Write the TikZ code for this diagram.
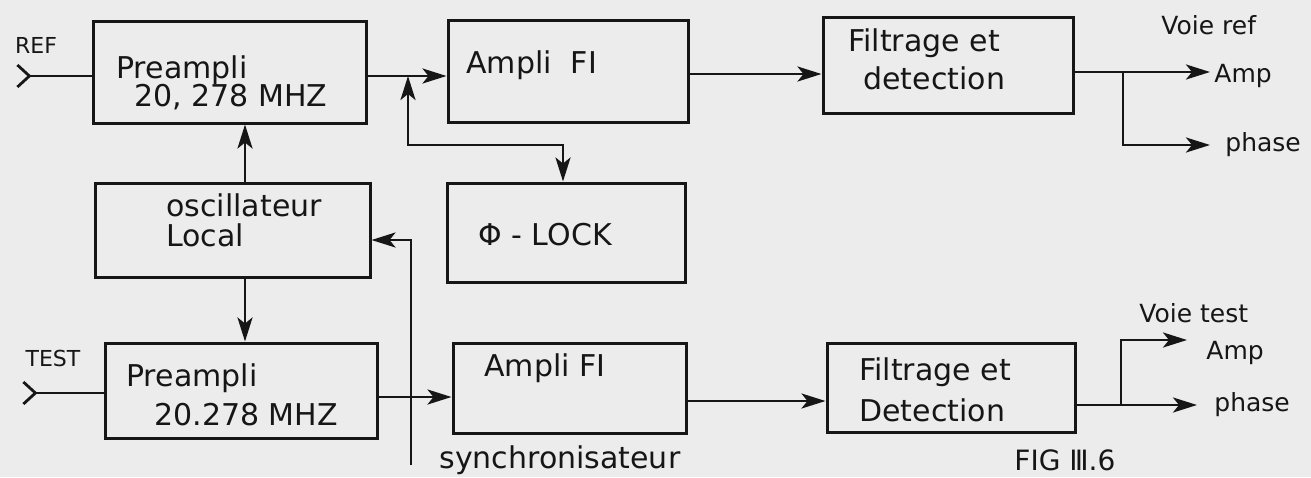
\documentclass[tikz,border=0pt]{standalone}
\usepackage{fontspec}
\setmainfont{DejaVu Sans}
\usetikzlibrary{arrows.meta,fit}
\definecolor{paper}{RGB}{236,236,236}
\definecolor{ink}{RGB}{22,22,22}
\begin{document}
\begin{tikzpicture}[x=0.5pt,y=-0.5pt,color=ink,line width=1.4pt,
  box/.style={draw=ink,line width=1.5pt,inner sep=0pt,fit={#1}},
  arr/.style={-{Stealth[length=12pt,width=7.5pt,inset=3pt]}},
  dbl/.style={{Stealth[length=12pt,width=7.5pt,inset=3pt]}-{Stealth[length=12pt,width=7.5pt,inset=3pt]}},
  inarr/.style={{Straight Barb[reversed,length=6pt,width=11pt]}-},
  lbl/.style={anchor=west,inner sep=0pt,font=\fontsize{15}{15}\selectfont},
  sml/.style={anchor=west,inner sep=0pt,font=\fontsize{12.5}{12.5}\selectfont},
  tag/.style={inner sep=0pt,font=\fontsize{11}{11}\selectfont}]
\useasboundingbox (0,0) rectangle (1311,477);
\fill[paper] (0,0) rectangle (1311,477);
% boxes
\node[box={(93,21) (366,123)}] (pre1) {};
\node[box={(448,20) (688,122)}] (amp1) {};
\node[box={(823,17) (1073,113)}] (fil1) {};
\node[box={(95,183) (370,277)}] (osc) {};
\node[box={(447,183) (685,282)}] (phi) {};
\node[box={(105,343) (377,438)}] (pre2) {};
\node[box={(453,343) (686,433)}] (amp2) {};
\node[box={(827,343) (1075,432)}] (fil2) {};
% texts
\node[tag] (tref) at (36,45) {REF};
\node[tag] (ttest) at (53,358) {TEST};
\node[lbl] (ta1) at (115,70) {Preampli};
\node[lbl] (ta2) at (133,97) {20, 278 MHZ};
\node[lbl] (tb1) at (465,65) {Ampli\ \ FI};
\node[lbl] (tc1) at (847,43) {Filtrage et};
\node[lbl] (tc2) at (862,78) {detection};
\node[lbl] (td1) at (165,205) {oscillateur};
\node[lbl] (td2) at (165,235) {Local};
\node[lbl] (te1) at (477,235) {Φ - LOCK};
\node[lbl] (tf1) at (125,378) {Preampli};
\node[lbl] (tf2) at (153,415) {20.278 MHZ};
\node[lbl] (tg1) at (483,368) {Ampli FI};
\node[lbl] (th1) at (858,372) {Filtrage et};
\node[lbl] (th2) at (858,410) {Detection};
\node[sml] (tvr) at (1160,25) {Voie ref};
\node[sml] (tar) at (1213,76) {Amp};
\node[sml] (tpr) at (1224,145) {phase};
\node[sml] (tvt) at (1138,313) {Voie test};
\node[sml] (tat) at (1205,353) {Amp};
\node[sml] (tpt) at (1213,405) {phase};
\node[lbl] (tsy) at (438,460) {synchronisateur};
\node[anchor=west,inner sep=0pt,font=\fontsize{14}{14}\selectfont] (tfig) at (1013,460) {FIG Ⅲ.6};
% connectors top row
\coordinate (refin) at (16,76);
\draw[inarr] (refin) -- (refin -| pre1.west);
\coordinate (y1) at (0,76);
\draw[arr] (y1 -| pre1.east) -- (y1 -| amp1.west);
\coordinate (j1) at (408,76);
\coordinate (k1) at (563,145);
\draw[dbl] (j1) |- (k1) -- (k1 |- phi.north);
\coordinate (y2) at (0,74);
\draw[arr] (y2 -| amp1.east) -- (y2 -| fil1.west);
\coordinate (y3) at (0,72);
\coordinate (o1a) at (1210,72);
\coordinate (b1) at (1123,72);
\coordinate (o1b) at (1210,145);
\draw[arr] (y3 -| fil1.east) -- (o1a);
\draw[arr] (b1) |- (o1b);
% oscillator
\coordinate (xv) at (245,0);
\draw[arr] (xv |- osc.north) -- (xv |- pre1.south);
\draw[arr] (xv |- osc.south) -- (xv |- pre2.north);
\coordinate (sync) at (411,465);
\coordinate (yk) at (0,240);
\draw[arr] (sync) |- (yk -| osc.east);
% bottom row
\coordinate (testin) at (22,393);
\draw[inarr] (testin) -- (testin -| pre2.west);
\coordinate (y4) at (0,397);
\draw[arr] (y4 -| pre2.east) -- (y4 -| amp2.west);
\coordinate (y5) at (0,401);
\draw[arr] (y5 -| amp2.east) -- (y5 -| fil2.west);
\coordinate (y6) at (0,405);
\coordinate (o2b) at (1197,405);
\coordinate (b2) at (1121,405);
\coordinate (o2a) at (1187,340);
\draw[arr] (y6 -| fil2.east) -- (o2b);
\draw[arr] (b2) |- (o2a);
\end{tikzpicture}
\end{document}
